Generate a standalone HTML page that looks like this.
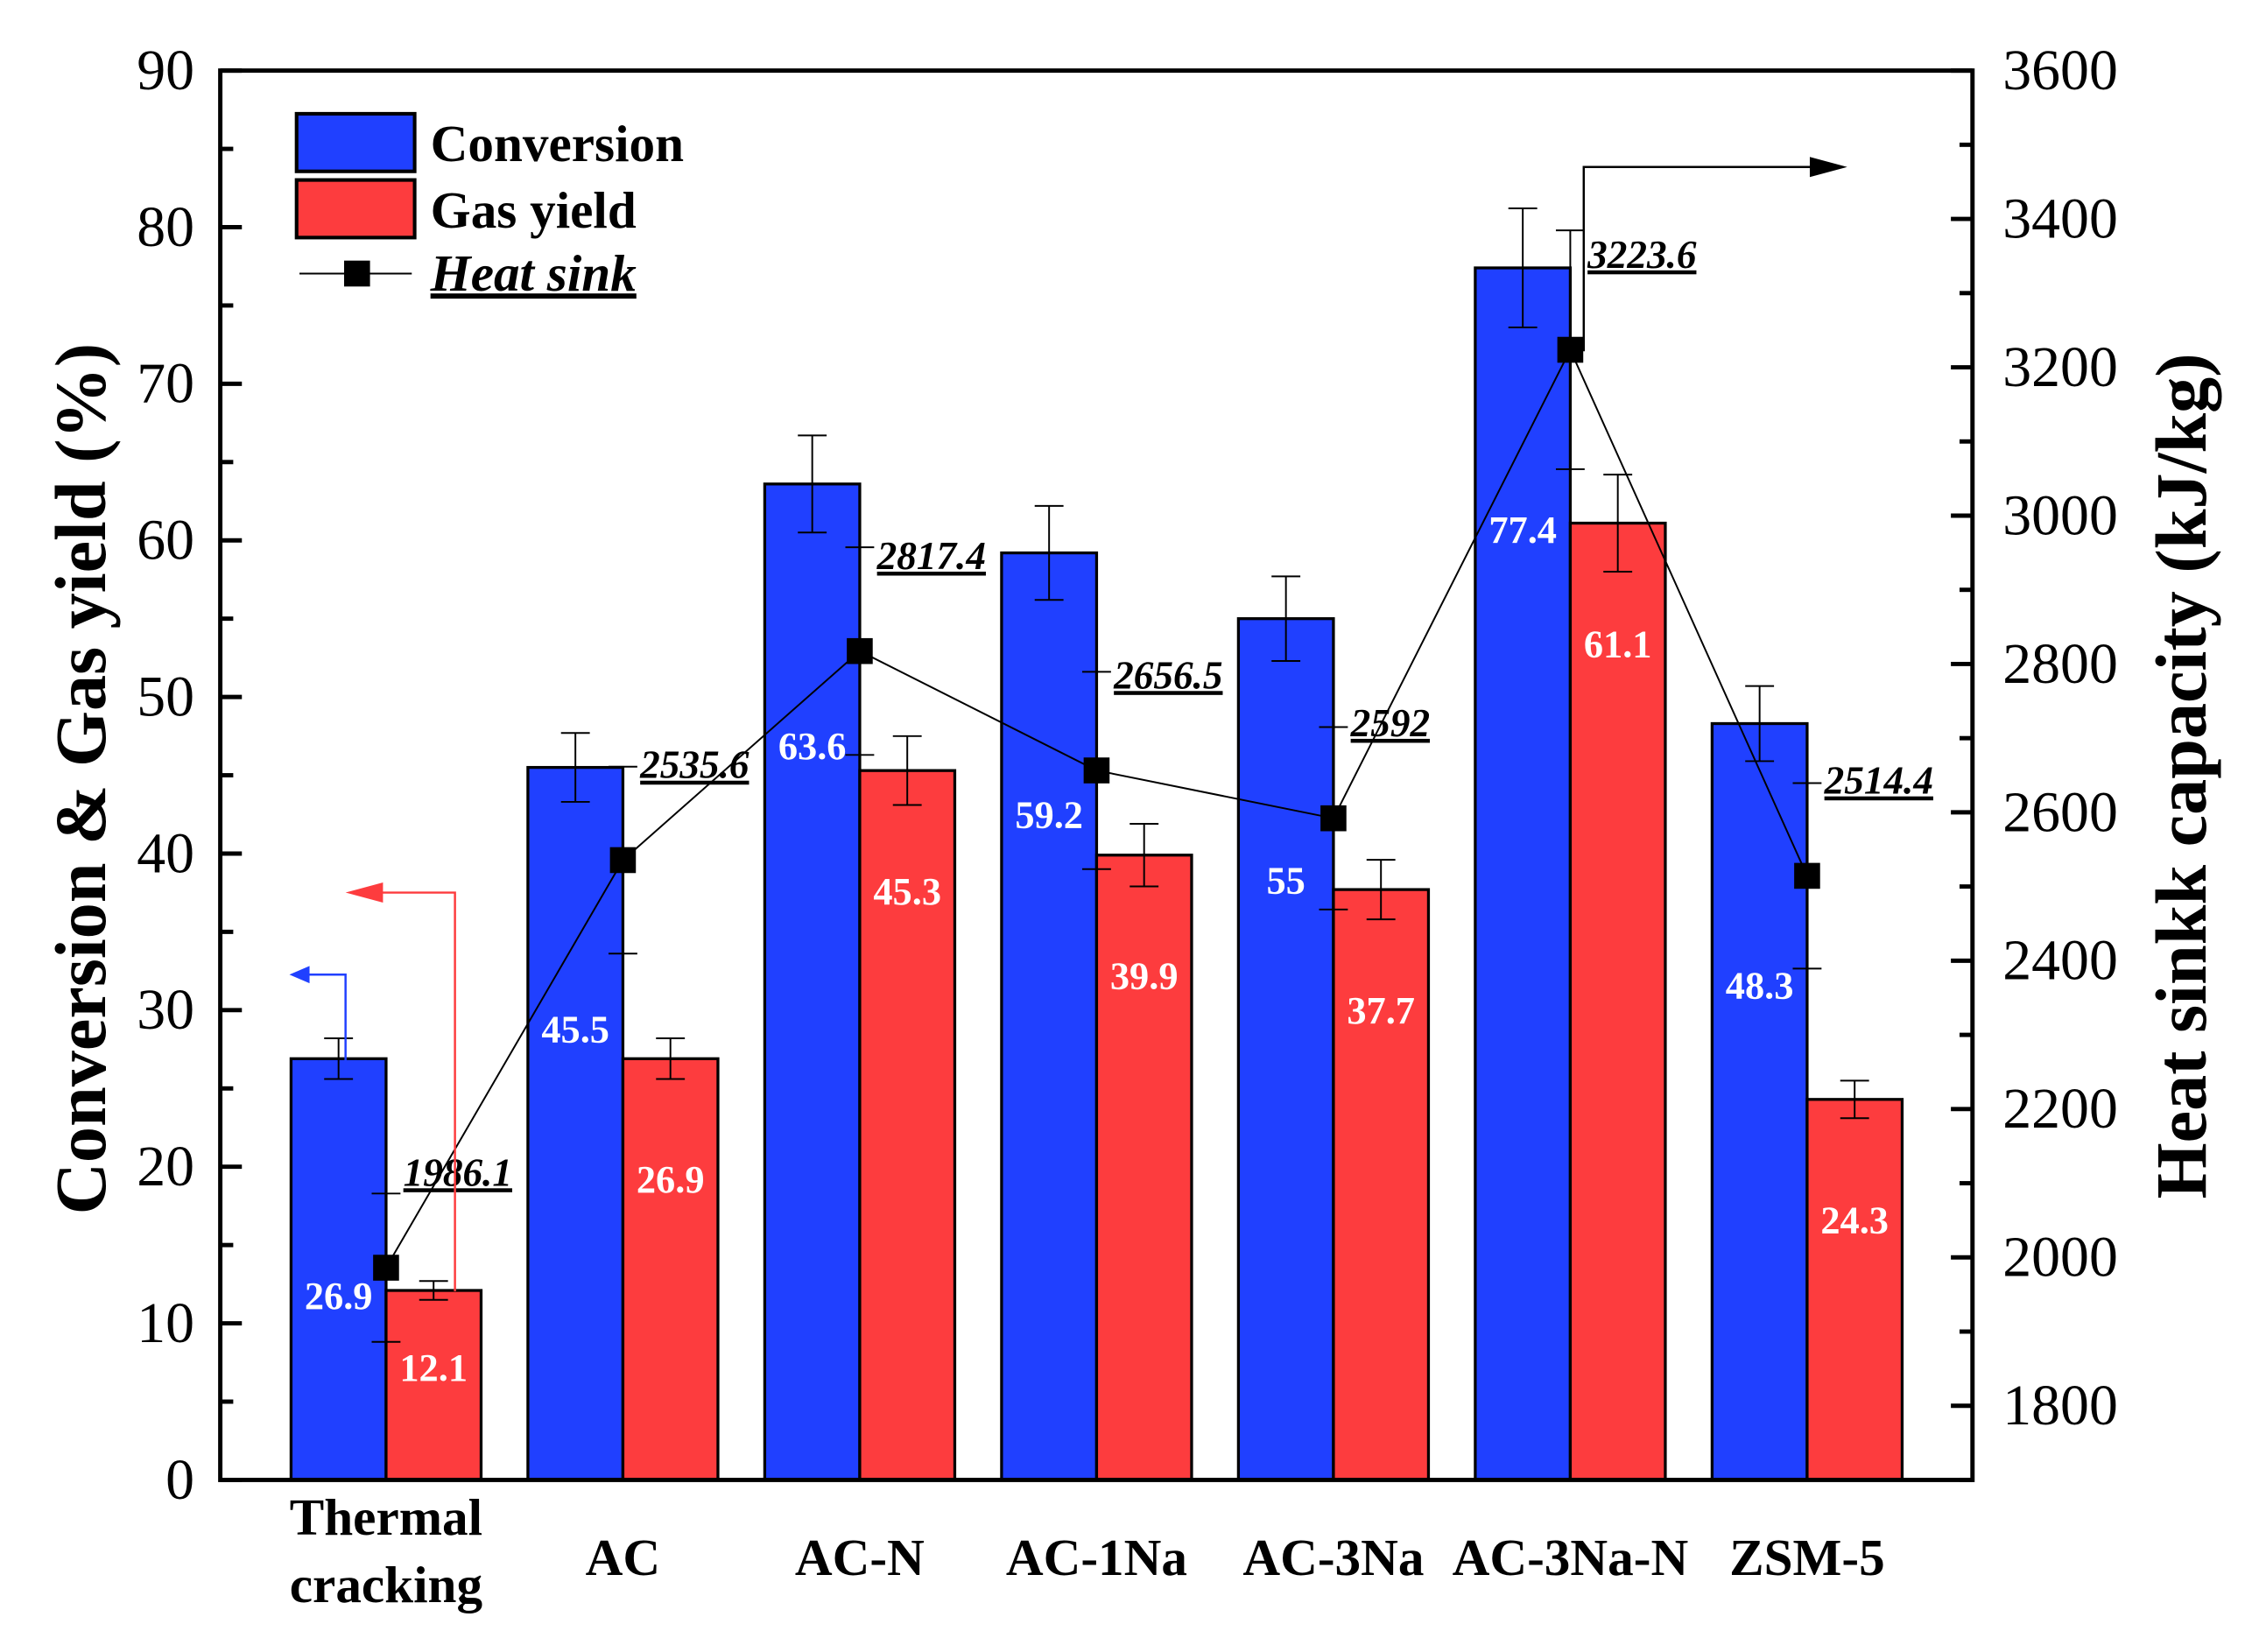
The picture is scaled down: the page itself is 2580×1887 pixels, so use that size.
<!DOCTYPE html>
<html><head><meta charset="utf-8"><style>
html,body{margin:0;padding:0;background:#fff}
svg{display:block}
text{font-family:"Liberation Serif",serif}
</style></head><body>
<svg id="chart" width="2580" height="1887" viewBox="0 0 1569 1147.5" xmlns="http://www.w3.org/2000/svg">
<g id="plot"></g>
</svg>
<script>
const categories = ["Thermal cracking","AC","AC-N","AC-1Na","AC-3Na","AC-3Na-N","ZSM-5"];
const conversion = [26.9,45.5,63.6,59.2,55,77.4,48.3];
const conversionErr = [1.3,2.2,3.1,3.0,2.7,3.8,2.4];
const gasYield = [12.1,26.9,45.3,39.9,37.7,61.1,24.3];
const gasErr = [0.6,1.3,2.2,2.0,1.9,3.1,1.2];
const heatSink = [1986.1,2535.6,2817.4,2656.5,2592,3223.6,2514.4];
const heatErr = [100,126,140,133,123,161,125];
const leftTicks = [0,10,20,30,40,50,60,70,80,90];
const rightTicks = [1800,2000,2200,2400,2600,2800,3000,3200,3400,3600];

const NS="http://www.w3.org/2000/svg";
const g=document.getElementById('plot');
const X0=153,X1=1370,Y0=1028,Y1=49;
const step=164.5;
function xc(i){return X0+(i+0.7)*step;}
function yL(v){return Y0-(v/90)*(Y0-Y1);}
function yR(v){return Y0-((v-1700)/1900)*(Y0-Y1);}
function el(tag,attrs,parent){const e=document.createElementNS(NS,tag);for(const k in attrs)e.setAttribute(k,attrs[k]);(parent||g).appendChild(e);return e;}
function txt(s,attrs,parent){const e=el('text',attrs,parent);e.textContent=s;return e;}
const BW=66, BLUE="#2040ff", RED="#fd3c3e";

categories.forEach((c,i)=>{
  const x=xc(i);
  const b=el('rect',{x:x-BW,y:yL(conversion[i]),width:BW,height:Y0-yL(conversion[i]),fill:BLUE,stroke:"#000","stroke-width":2});
  
  
  const r=el('rect',{x:x,y:yL(gasYield[i]),width:BW,height:Y0-yL(gasYield[i]),fill:RED,stroke:"#000","stroke-width":2});
  
  
  [[x-BW/2,conversion[i],conversionErr[i]],[x+BW/2,gasYield[i],gasErr[i]]].forEach(([ex,v,e])=>{
    el('line',{x1:ex,x2:ex,y1:yL(v+e),y2:yL(v-e),stroke:"#000","stroke-width":1.2});
    el('line',{x1:ex-10,x2:ex+10,y1:yL(v+e),y2:yL(v+e),stroke:"#000","stroke-width":1.2});
    el('line',{x1:ex-10,x2:ex+10,y1:yL(v-e),y2:yL(v-e),stroke:"#000","stroke-width":1.2});
  });
  const tb=Math.min(yL(conversion[i])+182,Y0-128);
  const t1=txt(String(conversion[i]),{x:x-BW/2,y:tb+9,"text-anchor":"middle","font-size":27,"font-weight":"bold",fill:"#fff"});
  
  
  const tr=Math.min(yL(gasYield[i])+84,Y0-78);
  const t2=txt(String(gasYield[i]),{x:x+BW/2,y:tr+9,"text-anchor":"middle","font-size":27,"font-weight":"bold",fill:"#fff"});
  
  
});

let pts=heatSink.map((v,i)=>xc(i)+","+yR(v)).join(" ");
const pl=el('polyline',{points:pts,fill:"none",stroke:"#000","stroke-width":1.2});


heatSink.forEach((v,i)=>{
  const x=xc(i);
  el('line',{x1:x,x2:x,y1:yR(v+heatErr[i]),y2:yR(v-heatErr[i]),stroke:"#000","stroke-width":1.2});
  el('line',{x1:x-10,x2:x+10,y1:yR(v+heatErr[i]),y2:yR(v+heatErr[i]),stroke:"#000","stroke-width":1.2});
  el('line',{x1:x-10,x2:x+10,y1:yR(v-heatErr[i]),y2:yR(v-heatErr[i]),stroke:"#000","stroke-width":1.2});
  const p=el('rect',{x:x-9,y:yR(v)-9,width:18,height:18,fill:"#000"});
  
  
  const t=txt(String(v),{x:x+12,y:yR(v)-57,"font-size":27.5,"font-weight":"bold","font-style":"italic","text-decoration":"underline"});
  
  
});

el('rect',{x:X0,y:Y1,width:X1-X0,height:Y0-Y1,fill:"none",stroke:"#000","stroke-width":3});
leftTicks.forEach(v=>{
  const y=yL(v);
  el('line',{x1:X0,x2:X0+15,y1:y,y2:y,stroke:"#000","stroke-width":3});
  if(v<90) el('line',{x1:X0,x2:X0+9,y1:yL(v+5),y2:yL(v+5),stroke:"#000","stroke-width":3});
  const t=txt(String(v),{x:X0-18,y:y+13,"text-anchor":"end","font-size":40});
  
  
});
rightTicks.forEach(v=>{
  const y=yR(v);
  el('line',{x1:X1,x2:X1-15,y1:y,y2:y,stroke:"#000","stroke-width":3});
  el('line',{x1:X1,x2:X1-9,y1:yR(v-100),y2:yR(v-100),stroke:"#000","stroke-width":3});
  const t=txt(String(v),{x:X1+21,y:y+13,"font-size":40});
  
  
});
categories.forEach((c,i)=>{
  const x=xc(i);
  if(c==="Thermal cracking"){
    const t1=txt("Thermal",{x:x,y:1066,"text-anchor":"middle","font-size":36,"font-weight":"bold"});
    
    const t2=txt("cracking",{x:x,y:1113,"text-anchor":"middle","font-size":36,"font-weight":"bold"});
    
  } else {
    const t=txt(c,{x:x,y:1094,"text-anchor":"middle","font-size":36,"font-weight":"bold"});
    
    
  }
});
</script>
<svg style="position:absolute;left:0;top:0" width="2580" height="1887" viewBox="0 0 1569 1147.5" xmlns="http://www.w3.org/2000/svg">
<text transform="translate(73,541) rotate(-90)" text-anchor="middle" font-size="50" font-weight="bold">Conversion &amp; Gas yield (%)</text>
<text transform="translate(1532,539) rotate(-90)" text-anchor="middle" font-size="50" font-weight="bold">Heat sinkk capacity (kJ/kg)</text>
<g>
<rect x="206" y="79" width="82" height="40" fill="#2040ff" stroke="#000" stroke-width="2.5"/>
<text x="299" y="112" font-size="36" font-weight="bold">Conversion</text>
<rect x="206" y="125" width="82" height="40" fill="#fd3c3e" stroke="#000" stroke-width="2.5"/>
<text x="299" y="158" font-size="36" font-weight="bold">Gas yield</text>
<line x1="208" x2="286" y1="190" y2="190" stroke="#000" stroke-width="1.2"/>
<rect x="239" y="181" width="18" height="18" fill="#000"/>
<text x="299" y="202" font-size="36" font-weight="bold" font-style="italic" text-decoration="underline">Heat sink</text>
</g>
<g stroke="#2040ff" stroke-width="1.5" fill="none">
<polyline points="240,737 240,677 212,677"/></g>
<polygon points="201,677 215,671 215,683" fill="#2040ff"/>
<g stroke="#fd3c3e" stroke-width="1.5" fill="none">
<polyline points="316,897 316,620 255,620"/></g>
<polygon points="240,620 266,613 266,627" fill="#fd3c3e"/>
<g stroke="#000" stroke-width="1.5" fill="none">
<polyline points="1100,244 1100,116 1260,116"/></g>
<polygon points="1283,116 1257,109 1257,123" fill="#000"/>
</svg>
</body></html>
